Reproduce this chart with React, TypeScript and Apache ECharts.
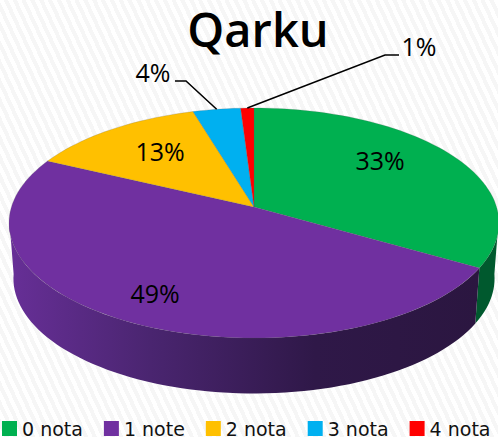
import React, { useEffect, useRef } from "react";
import * as echarts from "echarts";

const categories = ["0 nota", "1 note", "2 nota", "3 nota", "4 nota"];
const values = [33.4, 48.7, 13.3, 3.6, 1.0];
const colors = ["#00B050", "#7030A0", "#FFC000", "#00B0F0", "#FF0000"];
const titleText = "Qarku";

// layout of the tilted disc (perspective projection of the unit circle)
const CX = 254, CY = 207, KP = 0.139, AX = 242.6, AY = 112.8;
const DEPTH = 55.5, SHRINK = 0.982, VISIBLE_Y = 0.1;
const labelPos = [[380, 160], [155, 293], [160, 151], [153, 72], [419, 46]];
const leaderElbow: (number[][] | null)[] = [null, null, null, [[175, 81], [186, 81]], [[399, 55], [385, 55]]];
const wallFill: Record<number, any> = {
  0: "#00592E",
  1: new echarts.graphic.LinearGradient(0, 0, 1, 0, [
    { offset: 0, color: "#672F97" },
    { offset: 0.3, color: "#4A2570" },
    { offset: 0.65, color: "#2F1848" },
    { offset: 1, color: "#2B1640" },
  ]),
};

const total = values.reduce((a, b) => a + b, 0);
const startAngles = values.map((_, i) => (values.slice(0, i).reduce((a, b) => a + b, 0) / total) * Math.PI * 2);

function unit(theta: number) {
  return [Math.sin(theta), -Math.cos(theta)];
}
function project(theta: number, r = 1): number[] {
  const [x, y] = unit(theta);
  const d = 1 - KP * y * r;
  return [CX + (AX * x * r) / d, CY + (AY * y * r) / d];
}
function lower(p: number[]): number[] {
  return [CX + (p[0] - CX) * SHRINK, p[1] + DEPTH];
}
function arc(a: number, b: number): number[][] {
  const n = Math.max(2, Math.ceil(((b - a) / Math.PI) * 90));
  const pts: number[][] = [];
  for (let i = 0; i <= n; i++) pts.push(project(a + ((b - a) * i) / n));
  return pts;
}

function renderSlice(index: number) {
  return (_params: any, api: any) => {
    const value = api.value(0);
    const a = startAngles[index];
    const b = a + (value / total) * Math.PI * 2;
    const children: any[] = [];
    // visible wall: only the front part of the rim
    const tanA = Math.acos(-VISIBLE_Y);
    const tanB = Math.PI * 2 - tanA;
    const wa = Math.max(a, tanA);
    const wb = Math.min(b, tanB);
    if (wb > wa) {
      const edge = arc(wa, wb);
      children.push({
        type: "polygon",
        shape: { points: edge.concat(edge.map(lower).reverse()) },
        style: { fill: wallFill[index] ?? colors[index] },
      });
    }
    children.push({
      type: "polygon",
      shape: { points: [[CX, CY], ...arc(a, b)] },
      style: { fill: colors[index], stroke: "rgba(90,90,90,0.35)", lineWidth: 0.6 },
    });
    const elbow = leaderElbow[index];
    if (elbow) {
      children.push({
        type: "polyline",
        shape: { points: [...elbow, project((a + b) / 2)] },
        style: { fill: "none", stroke: "#000", lineWidth: 1.5 },
      });
    }
    children.push({
      type: "text",
      x: labelPos[index][0],
      y: labelPos[index][1],
      style: {
        text: Math.round((value / total) * 100) + "%",
        fill: "#000",
        font: '25px "Open Sans"',
        align: "center",
        verticalAlign: "middle",
      },
    });
    return { type: "group", children };
  };
}

export default function App() {
  const ref = useRef<HTMLDivElement>(null);
  useEffect(() => {
    const chart = echarts.init(ref.current!, null, { renderer: "svg" });
    chart.setOption({
      animation: false,
      backgroundColor: "transparent",
      title: {
        text: titleText,
        left: 253,
        top: 0,
        textAlign: "center",
        textStyle: { fontFamily: "Open Sans", fontSize: 47, fontWeight: 600, color: "#000" },
      },
      legend: {
        data: categories,
        left: 2,
        top: 417,
        padding: 0,
        icon: "rect",
        itemWidth: 15,
        itemHeight: 15,
        itemGap: 21,
        itemStyle: { borderWidth: 0 },
        selectedMode: false,
        textStyle: { fontFamily: "DejaVu Sans", fontSize: 19, lineHeight: 15, color: "#111", padding: [0, 0, 8, 0] },
      },
      series: categories.map((name, i) => ({
        type: "custom",
        name,
        coordinateSystem: "none",
        itemStyle: { color: colors[i] },
        data: [[values[i]]],
        renderItem: renderSlice(i),
        silent: true,
      })),
    });
    return () => chart.dispose();
  }, []);
  return (
    <div
      style={{
        position: "absolute",
        left: 0,
        top: 0,
        width: 498,
        height: 437,
        overflow: "hidden",
        background: "repeating-linear-gradient(65deg, #ffffff 0 4px, #f6f6f6 4px 8px)",
      }}
    >
      <div ref={ref} style={{ width: 498, height: 437 }} />
    </div>
  );
}
